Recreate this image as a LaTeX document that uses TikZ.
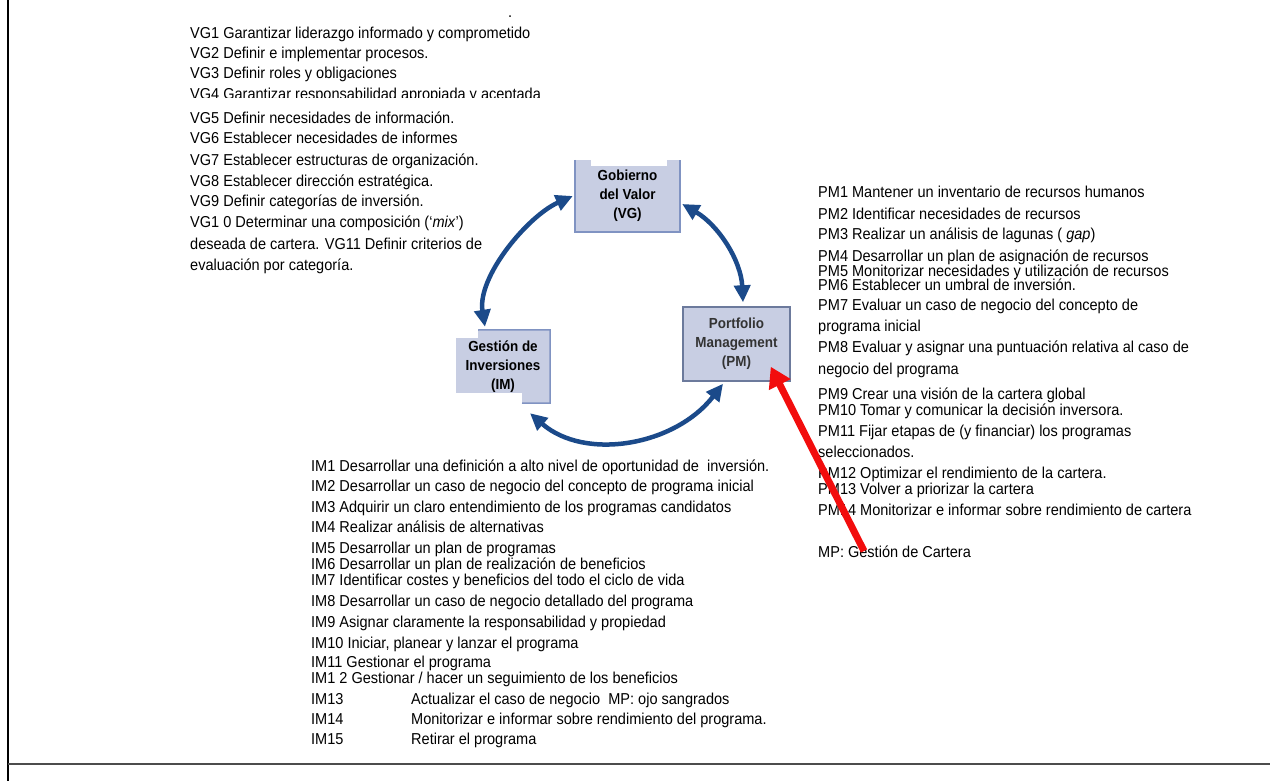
\documentclass[tikz,border=0pt]{standalone}
\usepackage{fontspec}
\setmainfont{Liberation Sans}[FakeStretch=0.92]
\usetikzlibrary{arrows.meta}
\definecolor{boxfill}{HTML}{C8CEE3}
\definecolor{boxedge}{HTML}{8093C2}
\definecolor{pmedge}{HTML}{6C7A9C}
\definecolor{cyclearrow}{HTML}{1B4A8A}
\definecolor{pointer}{HTML}{F20D0D}
\tikzset{
  txt/.style={anchor=base west, inner sep=0pt, font=\fontsize{15.8}{17}\selectfont},
  box/.style={fill=boxfill, draw=none, inner sep=0pt, align=center,
    font=\bfseries\fontsize{14.6}{19}\selectfont},
  edge/.style={draw=boxedge, line width=1.5pt},
  cyclearr/.style={draw=cyclearrow, line width=4.5pt,
    {Triangle[length=17pt,width=16pt]}-{Triangle[length=17pt,width=16pt]}},
  pointarr/.style={draw=pointer, line width=7pt, -{Triangle[length=20pt,width=23pt]}}
}
\begin{document}
\begin{tikzpicture}[x=1pt,y=-1pt]
\useasboundingbox (0,0) rectangle (1270,781);
\fill[white] (0,0) rectangle (1270,781);

% page rules
\draw[line width=1.5pt] (8,0) -- (8,781);
\draw[line width=2pt, draw=black!70] (8,764) -- (1270,764);

\node (dot) [txt] at (508,18) {.};

% value governance list
\node (vg1) [txt] at (190,39) {VG1 Garantizar liderazgo informado y comprometido};
\node (vg2) [txt] at (190,59) {VG2 Definir e implementar procesos.};
\node (vg3) [txt] at (190,79) {VG3 Definir roles y obligaciones};
\begin{scope}
  \clip (180,84) rectangle (600,98);
  \node (vg4) [txt] at (190,100) {VG4 Garantizar responsabilidad apropiada y aceptada};
\end{scope}
\node (vg5) [txt] at (190,124) {VG5 Definir necesidades de información.};
\node (vg6) [txt] at (190,144) {VG6 Establecer necesidades de informes};
\node (vg7) [txt] at (190,166) {VG7 Establecer estructuras de organización.};
\node (vg8) [txt] at (190,187) {VG8 Establecer dirección estratégica.};
\node (vg9) [txt] at (190,207) {VG9 Definir categorías de inversión.};
\node (vg10) [txt] at (190,228) {VG1 0 Determinar una composición (‘\textit{mix}’)};
\node (vg11) [txt] at (190,249) {deseada de cartera. VG11 Definir criterios de};
\node (vg12) [txt] at (190,270) {evaluación por categoría.};

% portfolio management list
\node (pm1) [txt] at (818,198) {PM1 Mantener un inventario de recursos humanos};
\node (pm2) [txt] at (818,219) {PM2 Identificar necesidades de recursos};
\node (pm3) [txt] at (818,240) {PM3 Realizar un análisis de lagunas ( \textit{gap})};
\node (pm4) [txt] at (818,261) {PM4 Desarrollar un plan de asignación de recursos};
\node (pm5) [txt] at (818,276) {PM5 Monitorizar necesidades y utilización de recursos};
\node (pm6) [txt] at (818,290) {PM6 Establecer un umbral de inversión.};
\node (pm7) [txt] at (818,310) {PM7 Evaluar un caso de negocio del concepto de};
\node (pm7b) [txt] at (818,331) {programa inicial};
\node (pm8) [txt] at (818,352) {PM8 Evaluar y asignar una puntuación relativa al caso de};
\node (pm8b) [txt] at (818,374) {negocio del programa};
\node (pm9) [txt] at (818,399) {PM9 Crear una visión de la cartera global};
\node (pm10) [txt] at (818,415) {PM10 Tomar y comunicar la decisión inversora.};
\node (pm11) [txt] at (818,436) {PM11 Fijar etapas de (y financiar) los programas};
\node (pm11b) [txt] at (818,457) {seleccionados.};
\node (pm12) [txt] at (818,478) {PM12 Optimizar el rendimiento de la cartera.};
\node (pm13) [txt] at (818,494) {PM13 Volver a priorizar la cartera};
\node (pm14) [txt] at (818,515) {PM14 Monitorizar e informar sobre rendimiento de cartera};
\node (mp) [txt] at (818,557) {MP: Gestión de Cartera};

% investment management list
\node (im1) [txt] at (311,471) {IM1 Desarrollar una definición a alto nivel de oportunidad de\ \ inversión.};
\node (im2) [txt] at (311,491) {IM2 Desarrollar un caso de negocio del concepto de programa inicial};
\node (im3) [txt] at (311,512) {IM3 Adquirir un claro entendimiento de los programas candidatos};
\node (im4) [txt] at (311,532) {IM4 Realizar análisis de alternativas};
\node (im5) [txt] at (311,553) {IM5 Desarrollar un plan de programas};
\node (im6) [txt] at (311,569) {IM6 Desarrollar un plan de realización de beneficios};
\node (im7) [txt] at (311,585) {IM7 Identificar costes y beneficios del todo el ciclo de vida};
\node (im8) [txt] at (311,606) {IM8 Desarrollar un caso de negocio detallado del programa};
\node (im9) [txt] at (311,627) {IM9 Asignar claramente la responsabilidad y propiedad};
\node (im10) [txt] at (311,648) {IM10 Iniciar, planear y lanzar el programa};
\node (im11) [txt] at (311,667) {IM11 Gestionar el programa};
\node (im12) [txt] at (311,683) {IM1 2 Gestionar / hacer un seguimiento de los beneficios};
\node (im13) [txt] at (311,704) {\makebox[100pt][l]{IM13}Actualizar el caso de negocio\ \ MP: ojo sangrados};
\node (im14) [txt] at (311,724) {\makebox[100pt][l]{IM14}Monitorizar e informar sobre rendimiento del programa.};
\node (im15) [txt] at (311,744) {\makebox[100pt][l]{IM15}Retirar el programa};

% cycle boxes
\node (vg) [box, minimum width=105pt, minimum height=72pt] at (627.5,196) {Gobierno\\del Valor\\(VG)};
\fill[white] (591,158) rectangle (667,166);
\draw[edge] (vg.north west) -- (vg.south west) -- (vg.south east) -- (vg.north east);

\node (im) [box, minimum width=94pt, minimum height=73pt] at (503,366.5) {Gestión de\\Inversiones\\(IM)};
\fill[white] (im.north west) rectangle (478,338);
\fill[white] (im.south west) rectangle (522,393);
\draw[edge] (478,330) -- (im.north east) -- (im.south east) -- (522,403);

\node (pm) [box, draw=pmedge, line width=1.5pt, minimum width=107pt, minimum height=74pt,
  text=black!80] at (736.5,344) {Portfolio\\Management\\(PM)};

% cycle arrows
\draw[cyclearr] ([xshift=-18pt,yshift=3pt]im.north)
  .. controls +(-8,-50) and +(-45,20) .. ([xshift=-2pt]vg.west);
\draw[cyclearr] ([xshift=2pt,yshift=-8pt]vg.east)
  .. controls +(36,21) and +(-2,-42) .. ([xshift=6.5pt,yshift=4pt]pm.north);
\draw[cyclearr] ([xshift=27pt,yshift=-10pt]im.south)
  .. controls +(55,48) and +(-48,62) .. ([xshift=-13.5pt,yshift=-2pt]pm.south);

% red pointer
\coordinate (redtail) at (864,551);
\draw[pointarr] (redtail) -- ([xshift=-20pt,yshift=15pt]pm.south east);
\end{tikzpicture}
\end{document}
